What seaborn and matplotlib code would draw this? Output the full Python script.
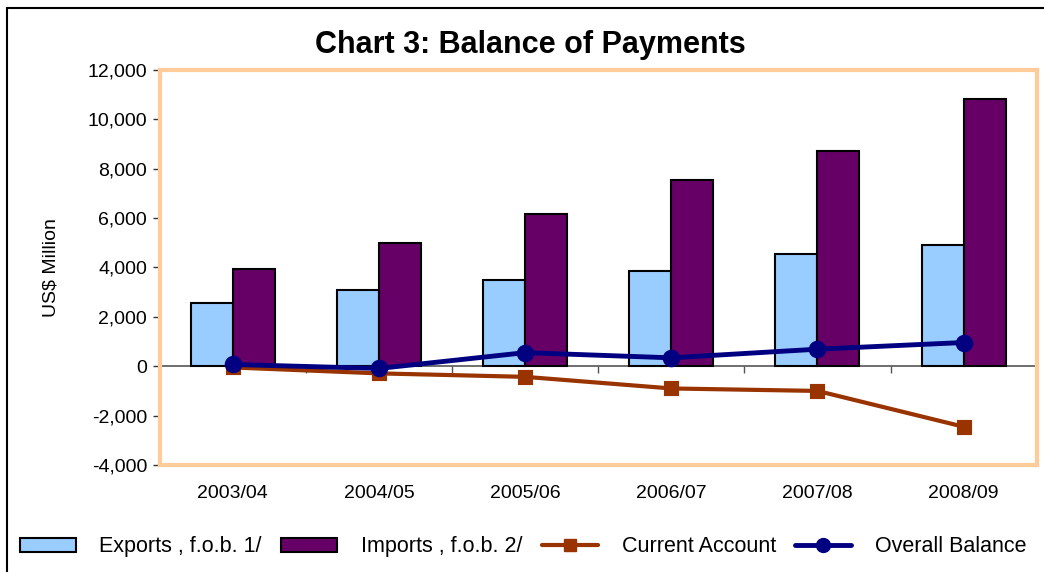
import pandas as pd
import matplotlib.pyplot as plt
import seaborn as sns
from matplotlib.patches import Patch, Rectangle
from matplotlib.lines import Line2D
from matplotlib.ticker import FuncFormatter

# data (US$ million)
years = ['2003/04', '2004/05', '2005/06', '2006/07', '2007/08', '2008/09']
exports = [2550, 3080, 3480, 3850, 4550, 4900]
imports = [3930, 4980, 6150, 7530, 8720, 10800]
current_account = [-50, -290, -430, -900, -1000, -2450]
overall_balance = [70, -90, 550, 340, 690, 960]

bars = pd.DataFrame({
    'Year': years * 2,
    'Value': exports + imports,
    'Series': ['Exports , f.o.b. 1/'] * 6 + ['Imports , f.o.b. 2/'] * 6,
})

sns.set_style('white')
plt.rcParams['font.family'] = ['Liberation Sans', 'DejaVu Sans']
plt.rcParams['text.color'] = 'black'
plt.rcParams['axes.labelcolor'] = 'black'
plt.rcParams['xtick.color'] = 'black'
plt.rcParams['ytick.color'] = 'black'

fig = plt.figure(figsize=(10.44, 5.72), dpi=100)
ax = fig.add_axes([0.153, 0.187, 0.840, 0.691])

sns.barplot(data=bars, x='Year', y='Value', hue='Series',
            palette=['#99CCFF', '#660066'], saturation=1, width=0.575, gap=0,
            edgecolor='black', linewidth=1.5, legend=False, ax=ax)
sns.pointplot(x=years, y=current_account, color='#993300', markers='s',
              markersize=8, linewidth=3, ax=ax)
sns.pointplot(x=years, y=overall_balance, color='#000080', markers='o',
              markersize=10, linewidth=3.5, ax=ax)

ax.set_xlim(-0.5, 5.5)
ax.set_ylim(-4000, 12000)
ax.set_yticks(range(-4000, 12001, 2000))
ax.yaxis.set_major_formatter(FuncFormatter(lambda v, p: f'{int(v):,}'))
ax.tick_params(axis='y', left=True, length=5, width=1, color='#333333',
               labelsize=14, pad=4)
ax.tick_params(axis='x', bottom=False, labelsize=14, pad=11)
ax.set_xlabel('')
ax.set_ylabel('US$ Million', fontsize=14, labelpad=20)

for s in ax.spines.values():
    s.set_color('#FFCC99')
    s.set_linewidth(3)

# zero line with category separator ticks
zero = ax.secondary_xaxis(0.25)
zero.set_xticks([i - 0.5 for i in range(len(years) + 1)])
zero.set_xticklabels([])
zero.tick_params(length=5, color='#555555', width=1)
zero.spines['bottom'].set_color('#555555')
zero.spines['bottom'].set_linewidth(1.2)
for k in ('top', 'left', 'right'):
    zero.spines[k].set_visible(False)

fig.suptitle('Chart 3: Balance of Payments', x=0.508, y=1 - 45 / 572,
             va='center', fontsize=22, fontweight='bold')

handles = [
    Patch(facecolor='#99CCFF', edgecolor='black', linewidth=1.5),
    Patch(facecolor='#660066', edgecolor='black', linewidth=1.5),
    Line2D([], [], color='#993300', marker='s', markersize=8, linewidth=3),
    Line2D([], [], color='#000080', marker='o', markersize=10, linewidth=3.5),
]
labels = ['Exports , f.o.b. 1/', 'Imports , f.o.b. 2/', 'Current Account',
          'Overall Balance']
fig.legend(handles, labels, loc='center', bbox_to_anchor=(0.501, 0.044),
           ncol=4, frameon=False, fontsize=15.5, handlelength=2.6,
           handleheight=0.65, columnspacing=0.9, handletextpad=1.1)

# outer chart border (top and left visible)
fig.patches.append(Rectangle((7 / 1044, -0.1), 1.2, 1 - 8 / 572 + 0.1,
                             transform=fig.transFigure, fill=False,
                             edgecolor='black', linewidth=1.5))

fig.savefig('out.png', dpi=100)
